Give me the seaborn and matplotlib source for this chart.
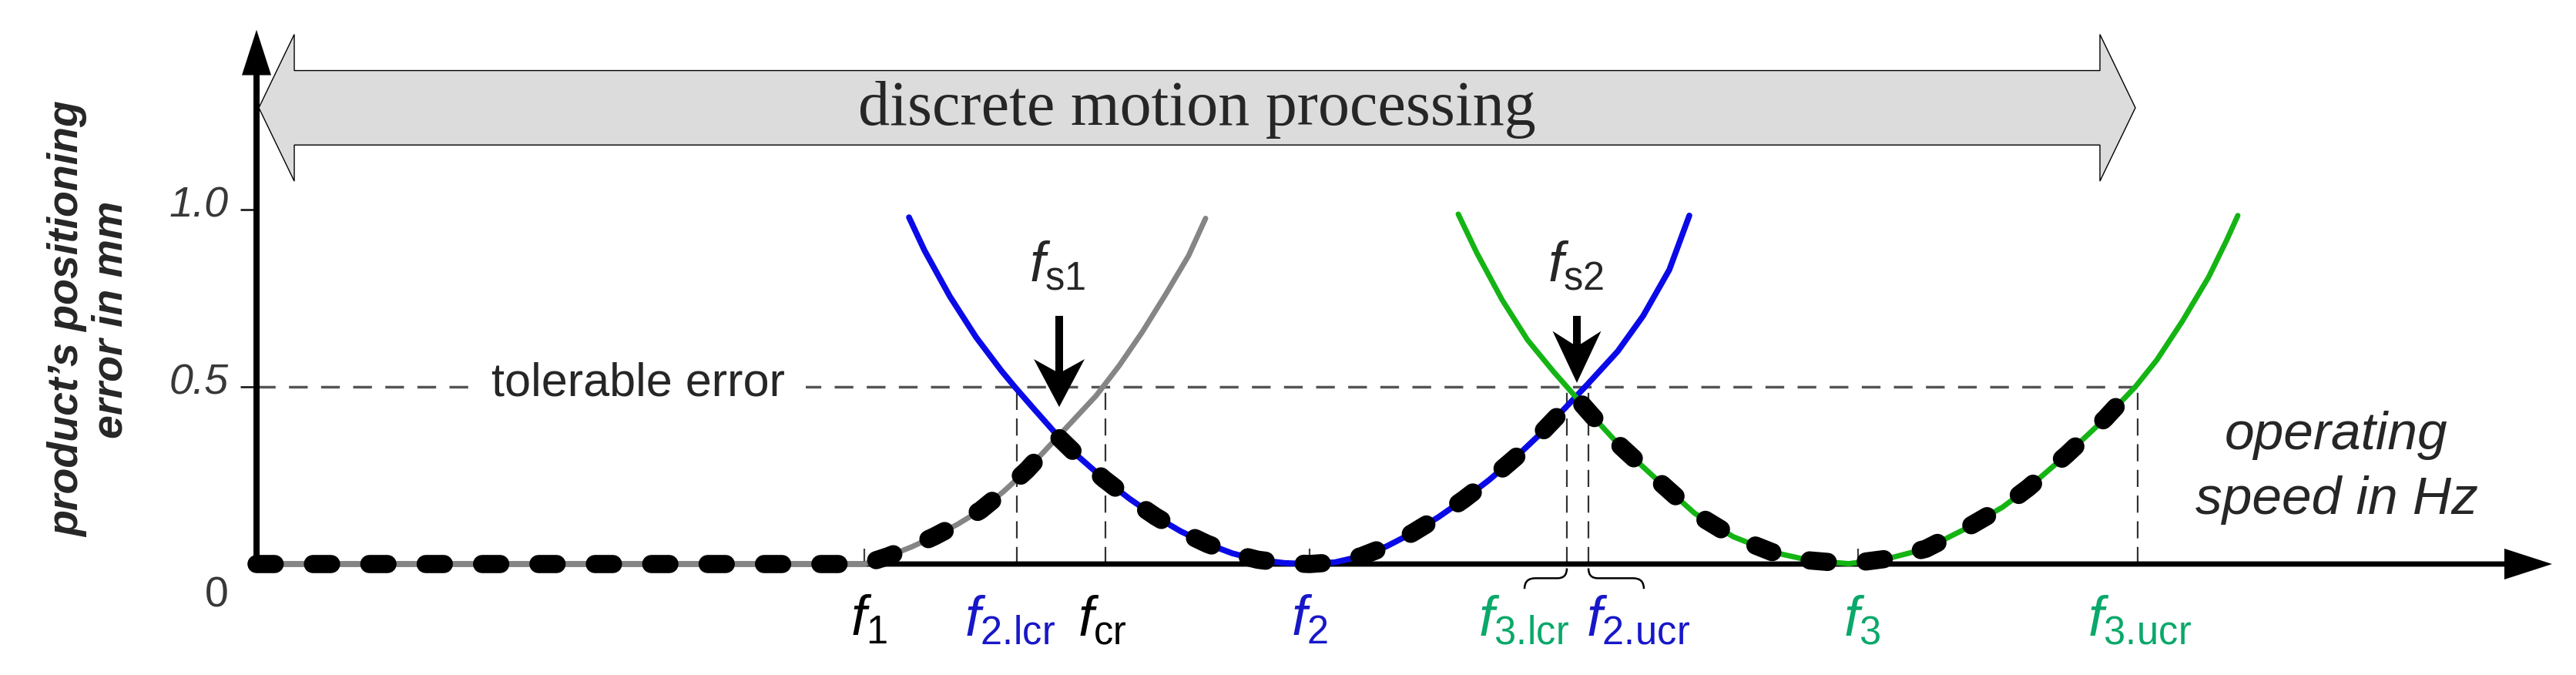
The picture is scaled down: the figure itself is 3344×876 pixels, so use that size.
import matplotlib
matplotlib.use("Agg")
import matplotlib.pyplot as plt
import seaborn as sns
from matplotlib.patches import FancyArrow, Polygon, PathPatch
from matplotlib.path import Path

# Estilo base; fontes definidas depois do set_style
sns.set_style("white")
plt.rcParams['font.family'] = ['Liberation Sans', 'DejaVu Sans']
plt.rcParams['mathtext.fontset'] = 'custom'
plt.rcParams['mathtext.it'] = 'Liberation Sans:italic'
plt.rcParams['mathtext.rm'] = 'Liberation Sans'
plt.rcParams['mathtext.bf'] = 'Liberation Sans:bold'

# ---- dados (velocidade em unidades arbitrárias, erro em mm) ----
gray_x = [0.0, 7.89, 8.20, 8.50, 8.80, 9.10, 9.40, 9.70, 10.00, 10.30, 10.60,
          10.90, 11.20, 11.50, 11.80, 12.10, 12.32]
gray_y = [0.0, 0.0, 0.022, 0.048, 0.078, 0.112, 0.152, 0.205, 0.265, 0.335, 0.405,
          0.475, 0.560, 0.655, 0.760, 0.870, 0.975]

blue_x = [8.47, 8.67, 9.00, 9.34, 9.67, 9.85, 10.07, 10.40, 10.67, 11.00, 11.34,
          11.67, 12.00, 12.34, 12.67, 13.00, 13.34, 13.67, 14.00, 14.34, 14.67,
          15.00, 15.34, 15.67, 16.00, 16.34, 16.67, 17.00, 17.27, 17.67, 18.00,
          18.34, 18.60]
blue_y = [0.978, 0.885, 0.755, 0.640, 0.545, 0.498, 0.443, 0.362, 0.303, 0.240, 0.183,
          0.134, 0.092, 0.057, 0.030, 0.012, 0.003, 0.000, 0.005, 0.022, 0.050,
          0.087, 0.132, 0.182, 0.237, 0.300, 0.368, 0.443, 0.505, 0.600, 0.700,
          0.830, 0.983]

green_x = [15.60, 15.84, 16.17, 16.50, 16.84, 17.01, 17.34, 17.67, 17.87, 18.17,
           18.67, 19.17, 19.67, 20.17, 20.67, 21.17, 21.67, 22.17, 22.67, 23.00,
           23.50, 24.00, 24.39, 24.67, 25.00, 25.34, 25.57, 25.72]
green_y = [0.987, 0.878, 0.745, 0.632, 0.542, 0.500, 0.418, 0.340, 0.300, 0.240,
           0.143, 0.077, 0.034, 0.010, 0.001, 0.015, 0.043, 0.098, 0.161, 0.215,
           0.309, 0.411, 0.500, 0.576, 0.685, 0.809, 0.911, 0.983]

# envoltória (erro mínimo alcançável)
env_x = [0.0, 7.89, 8.20, 8.50, 8.80, 9.10, 9.40, 9.70, 10.00, 10.30, 10.40,
         10.67, 11.00, 11.34, 11.67, 12.00, 12.34, 12.67, 13.00, 13.34, 13.67,
         14.00, 14.34, 14.67, 15.00, 15.34, 15.67, 16.00, 16.34, 16.67, 17.00,
         17.12, 17.34, 17.67, 17.87, 18.17, 18.67, 19.17, 19.67, 20.17, 20.67,
         21.17, 21.67, 22.17, 22.67, 23.00, 23.50, 24.00, 24.25]
env_y = [0.0, 0.0, 0.022, 0.048, 0.078, 0.112, 0.152, 0.205, 0.265, 0.335, 0.360,
         0.303, 0.240, 0.183, 0.134, 0.092, 0.057, 0.030, 0.012, 0.003, 0.000,
         0.005, 0.022, 0.050, 0.087, 0.132, 0.182, 0.237, 0.300, 0.368, 0.443,
         0.472, 0.418, 0.340, 0.300, 0.240, 0.143, 0.077, 0.034, 0.010, 0.001,
         0.015, 0.043, 0.098, 0.161, 0.215, 0.309, 0.411, 0.470]

tolerable = 0.5
y_ticks = [0.5, 1.0]
y_tick_labels = ["0.5", "1.0"]

f1, f2, f3 = 7.89, 13.67, 20.79
f2_lcr, f_cr = 9.87, 11.02
f3_lcr, f2_ucr, f3_ucr = 17.01, 17.29, 24.42
fs1_x, fs1_y = 10.42, 0.443
fs2_x, fs2_y = 17.14, 0.511

freq_labels = [r'$f_{\mathrm{1}}$', r'$f_{\mathrm{2.\!lcr}}$', r'$f_{\mathrm{cr}}$',
               r'$f_{\mathrm{2}}$', r'$f_{\mathrm{3.\!lcr}}$', r'$f_{\mathrm{2.\!ucr}}$',
               r'$f_{\mathrm{3}}$', r'$f_{\mathrm{3.\!ucr}}$']
freq_values = [f1, f2_lcr, f_cr, f2, f3_lcr, f2_ucr, f3, f3_ucr]

# cores
C_GRAY = "#858585"
C_BLUE = "#0a0ae8"
C_GREEN = "#14b414"
C_LBLUE = "#1717c8"
C_LGREEN = "#0aa86a"
label_colors = ["black", C_LBLUE, "black", C_LBLUE, C_LGREEN, C_LBLUE, C_LGREEN, C_LGREEN]
label_ha = ["center", "center", "center", "center", "right", "left", "center", "center"]
label_dx = [0.06, -0.09, -0.04, 0.0, 0.03, -0.03, 0.05, 0.03]

# ---- figura: um eixo ocupando tudo, escala 100 px por unidade x, 460 px por mm ----
fig = plt.figure(figsize=(33.44, 8.76), dpi=100)
ax = fig.add_axes([0, 0, 1, 1])
ax.set_xlim(-3.33, 30.11)
ax.set_ylim(-0.313, 1.591)
ax.axis('off')

# seta dupla "discrete motion processing"
x0, x1, yc = 0.03, 24.39, 1.287
hl, bh, hh = 0.46, 0.105, 0.207
pts = [(x0, yc), (x0 + hl, yc + hh), (x0 + hl, yc + bh), (x1 - hl, yc + bh),
       (x1 - hl, yc + hh), (x1, yc), (x1 - hl, yc - hh), (x1 - hl, yc - bh),
       (x0 + hl, yc - bh), (x0 + hl, yc - hh)]
ax.add_patch(Polygon(pts, closed=True, facecolor="#dcdcdc", edgecolor="black",
                     lw=1.0, zorder=1))
ax.text((x0 + x1) / 2, 1.282, "discrete motion processing", family="Liberation Serif",
        fontsize=59, ha="center", va="center", zorder=7)

# linha de erro tolerável e linhas verticais
ax.hlines(tolerable, 0, f3_ucr, colors="#555555", lw=2.5, linestyles=(0, (7, 5)), zorder=2)
ax.vlines([f2_lcr, f_cr, f3_lcr, f2_ucr, f3_ucr], 0, tolerable, colors="#333333",
          lw=1.6, linestyles=(0, (10, 5)), zorder=2)
ax.vlines([f1, f2, f3], 0, 0.043, colors="#444444", lw=1.6, zorder=2)
ax.hlines(y_ticks, -0.21, 0, colors="#222222", lw=2, zorder=2)
ax.text(4.95, tolerable + 0.008, "tolerable error", fontsize=44, ha="center", va="center",
        zorder=7, bbox=dict(facecolor="white", edgecolor="none", pad=20))

# eixos com setas
ax.add_patch(FancyArrow(0, 0, 29.80, 0, width=0.015, head_width=0.087, head_length=0.62,
                        length_includes_head=True, color="black", lw=0, zorder=3))
ax.add_patch(FancyArrow(0, 0, 0, 1.507, width=0.08, head_width=0.38, head_length=0.128,
                        length_includes_head=True, color="black", lw=0, zorder=6))

# curvas
sns.lineplot(x=gray_x, y=gray_y, ax=ax, sort=False, estimator=None, color=C_GRAY,
             lw=5.0, solid_capstyle="round", solid_joinstyle="round", zorder=4)
sns.lineplot(x=blue_x, y=blue_y, ax=ax, sort=False, estimator=None, color=C_BLUE,
             lw=5.5, solid_capstyle="round", solid_joinstyle="round", zorder=4)
sns.lineplot(x=green_x, y=green_y, ax=ax, sort=False, estimator=None, color=C_GREEN,
             lw=5.0, solid_capstyle="round", solid_joinstyle="round", zorder=4)
sns.lineplot(x=env_x, y=env_y, ax=ax, sort=False, estimator=None, color="black",
             lw=17, linestyle=(0, (1.0, 2.1)), dash_capstyle="round",
             dash_joinstyle="round", zorder=5)

# setas f_s1 e f_s2
ax.add_patch(FancyArrow(fs1_x, 0.70, 0, fs1_y - 0.70, width=0.10, head_width=0.66,
                        head_length=0.135, overhang=0.25, length_includes_head=True,
                        color="black", lw=0, zorder=6))
ax.add_patch(FancyArrow(fs2_x, 0.70, 0, fs2_y - 0.70, width=0.10, head_width=0.63,
                        head_length=0.146, overhang=0.25, length_includes_head=True,
                        color="black", lw=0, zorder=6))
ax.text(fs1_x - 0.03, 0.798, r'$f_{\mathrm{s1}}$', fontsize=52, ha="center",
        va="baseline", zorder=7)
ax.text(fs2_x - 0.02, 0.798, r'$f_{\mathrm{s2}}$', fontsize=52, ha="center",
        va="baseline", zorder=7)

# chaves sob f3.lcr e f2.ucr
def chave(xt, sentido, largura):
    xe = xt - sentido * largura
    verts = [(xe, -0.070), (xe, -0.040), (xe + sentido * 0.14, -0.040),
             (xt - sentido * 0.12, -0.040), (xt, -0.040), (xt, -0.012)]
    codes = [Path.MOVETO, Path.CURVE3, Path.CURVE3, Path.LINETO, Path.CURVE3, Path.CURVE3]
    ax.add_patch(PathPatch(Path(verts, codes), fill=False, lw=1.8, edgecolor="black",
                           zorder=6))

chave(f3_lcr, 1, 0.55)
chave(f2_ucr, -1, 0.72)

# rótulos das frequências
for lab, val, col, ha, dx in zip(freq_labels, freq_values, label_colors, label_ha, label_dx):
    ax.text(val + dx, -0.202, lab, fontsize=52, color=col, ha=ha, va="baseline", zorder=7)

# rótulos do eixo y
for v, lab in zip(y_ticks, y_tick_labels):
    ax.text(-0.36, v + 0.01, lab, fontsize=40, style="italic", color="#383838",
            ha="right", va="center", zorder=7)
ax.text(-0.52, -0.091, "0", fontsize=40, color="#383838", ha="center", va="center")

ax.text(-2.17, 0.69, "product\u2019s positioning\nerror in mm", fontsize=40,
        fontweight="bold", style="italic", rotation=90, ha="center", va="center",
        multialignment="center", linespacing=1.1)
ax.text(27.0, 0.272, "operating\nspeed in Hz", fontsize=50, style="italic",
        ha="center", va="center", multialignment="center", linespacing=1.4)

plt.savefig("out.png", dpi=100)
